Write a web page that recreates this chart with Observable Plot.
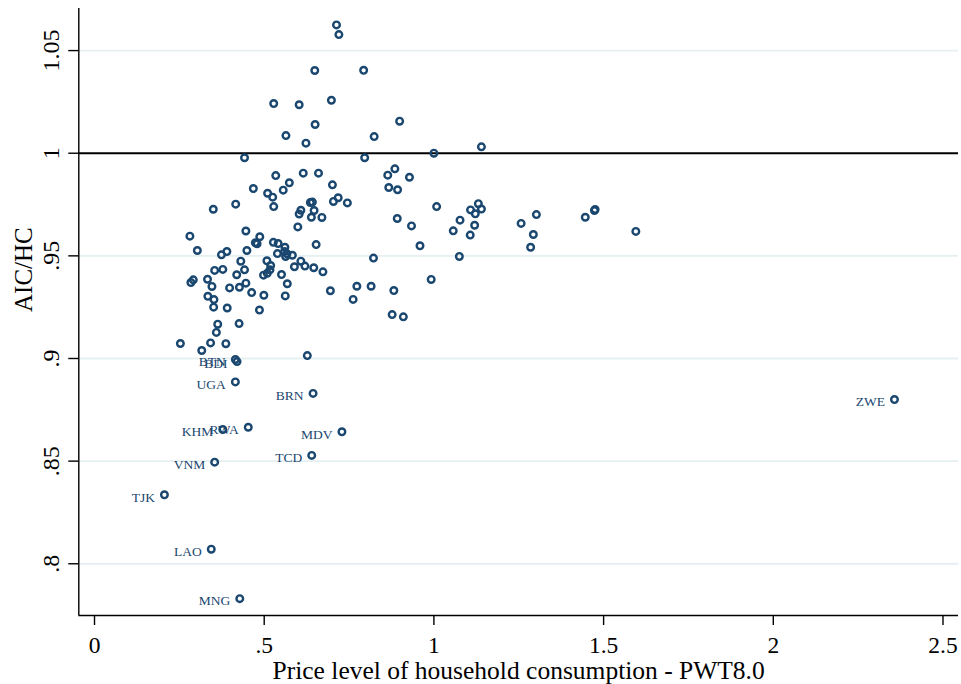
<!DOCTYPE html>
<html><head><meta charset="utf-8">
<script src="https://cdn.jsdelivr.net/npm/d3@7"></script>
<script src="https://cdn.jsdelivr.net/npm/@observablehq/plot@0.6"></script>
<style>body{margin:0;background:#fff}</style>
</head><body><div id="chart"></div>
<script>
const xTicks = [0, 0.5, 1, 1.5, 2, 2.5];
const yTicks = [0.8, 0.85, 0.9, 0.95, 1, 1.05];
const gridTicks = [0.8, 0.85, 0.9, 0.95, 1.05];
const refLine = [1];
const xDomain = [-0.0463, 2.5457];
const yDomain = [0.7748, 1.0705];
const xTitle = "Price level of household consumption - PWT8.0";
const yTitle = "AIC/HC";

const pointX = [0.713,0.720,0.649,0.793,0.528,0.603,0.698,0.899,0.650,0.564,
0.824,0.623,1.140,1.000,0.442,0.796,0.885,0.864,0.928,0.534,
0.615,0.660,0.701,0.867,0.893,0.574,0.556,0.468,0.510,0.525,
0.528,0.416,0.350,0.636,0.642,0.718,0.704,0.745,1.008,1.131,
1.108,1.140,1.122,0.608,0.603,0.647,0.639,0.670,0.892,0.934,
1.077,1.057,1.120,1.107,0.599,0.446,0.281,0.487,0.474,0.479,
0.527,0.541,0.653,0.303,0.390,0.374,0.449,0.561,0.539,0.560,
0.567,0.563,0.583,0.822,0.959,1.075,0.431,0.442,0.354,0.378,
0.419,0.508,0.519,0.517,0.509,0.498,0.551,0.608,0.620,0.589,
0.646,0.673,0.333,0.291,0.284,0.346,0.398,0.427,0.446,0.568,
0.463,0.499,0.562,0.695,0.773,0.815,0.882,0.992,0.334,0.352,
0.351,0.391,0.486,0.762,0.877,0.910,0.363,0.426,0.359,0.253,
0.342,0.387,0.316,0.627,1.257,1.302,1.293,1.285,1.446,1.473,
1.475,1.595];
const pointY = [1.0625,1.0578,1.0403,1.0404,1.0242,1.0236,1.0258,1.0156,1.0140,1.0086,
1.0081,1.0049,1.0031,1.0000,0.9978,0.9978,0.9924,0.9893,0.9883,0.9891,
0.9903,0.9903,0.9846,0.9833,0.9822,0.9856,0.9820,0.9828,0.9805,0.9786,
0.9740,0.9752,0.9727,0.9760,0.9762,0.9783,0.9765,0.9758,0.9740,0.9754,
0.9724,0.9728,0.9705,0.9722,0.9704,0.9721,0.9688,0.9687,0.9682,0.9646,
0.9674,0.9622,0.9649,0.9601,0.9641,0.9621,0.9596,0.9593,0.9564,0.9559,
0.9566,0.9560,0.9555,0.9526,0.9521,0.9505,0.9526,0.9542,0.9511,0.9521,
0.9510,0.9497,0.9503,0.9489,0.9549,0.9497,0.9474,0.9432,0.9429,0.9434,
0.9408,0.9476,0.9453,0.9432,0.9415,0.9406,0.9409,0.9474,0.9450,0.9447,
0.9442,0.9422,0.9386,0.9383,0.9370,0.9351,0.9344,0.9347,0.9367,0.9364,
0.9321,0.9308,0.9305,0.9330,0.9352,0.9352,0.9331,0.9385,0.9303,0.9287,
0.9250,0.9246,0.9236,0.9288,0.9214,0.9203,0.9167,0.9170,0.9127,0.9073,
0.9076,0.9072,0.9039,0.9014,0.9658,0.9701,0.9604,0.9542,0.9688,0.9721,
0.9726,0.9619];

const labelCodes = ["BTN","BDI","UGA","BRN","RWA","KHM","MDV","TCD","VNM","TJK","LAO","MNG","ZWE"];
const labelX = [0.415,0.420,0.415,0.644,0.453,0.378,0.729,0.640,0.354,0.206,0.344,0.428,2.357];
const labelY = [0.8995,0.8985,0.8886,0.8830,0.8665,0.8654,0.8643,0.8528,0.8495,0.8336,0.8071,0.7830,0.8800];

const fmt = d => d === 0 ? "0" : String(d).replace(/^0\./, ".");
const points = pointX.map((x, i) => ({x, y: pointY[i]}));
const labeled = labelCodes.map((code, i) => ({code, x: labelX[i], y: labelY[i]}));
const navy = "#1a476f";
const serif = "'Liberation Serif', 'Times New Roman', serif";

const chart = Plot.plot({
  width: 961, height: 684,
  marginLeft: 78.3, marginRight: 3, marginTop: 8, marginBottom: 69,
  style: {fontFamily: serif, background: "#fff", overflow: "visible"},
  x: {domain: xDomain},
  y: {domain: yDomain},
  marks: [
    Plot.gridY(gridTicks, {stroke: "#e6eff2", strokeOpacity: 1, strokeWidth: 1.8}),
    Plot.ruleY(refLine, {stroke: "#000", strokeWidth: 2}),
    Plot.ruleX([xDomain[0]], {stroke: "#000", strokeWidth: 1.4}),
    Plot.ruleY([yDomain[0]], {stroke: "#000", strokeWidth: 1.4}),
    Plot.axisX(xTicks, {tickSize: 10, tickPadding: 11, tickFormat: fmt, fontSize: 23.5, label: null, stroke: "#000", strokeWidth: 1.4}),
    Plot.axisY(yTicks, {tickSize: 10, tickPadding: 10, tickRotate: -90, tickFormat: fmt, fontSize: 24, label: null, stroke: "#000", strokeWidth: 1.4}),
    Plot.dot(points, {x: "x", y: "y", r: 3.3, stroke: navy, strokeWidth: 2.4, fill: "none"}),
    Plot.dot(labeled, {x: "x", y: "y", r: 3.3, stroke: navy, strokeWidth: 2.4, fill: "none"}),
    Plot.text(labeled, {x: "x", y: "y", text: "code", textAnchor: "end", dx: -9.5, dy: 2.5, fill: navy, fontSize: 13.5}),
    Plot.text([xTitle], {text: d => d, frameAnchor: "bottom", lineAnchor: "bottom", dy: 63.5, fontSize: 25.5, fill: "#000"}),
    Plot.text([yTitle], {text: d => d, frameAnchor: "left", rotate: -90, lineAnchor: "bottom", dx: -47, fontSize: 25, fill: "#000"})
  ]
});
document.getElementById("chart").appendChild(chart);
</script>
</body></html>
